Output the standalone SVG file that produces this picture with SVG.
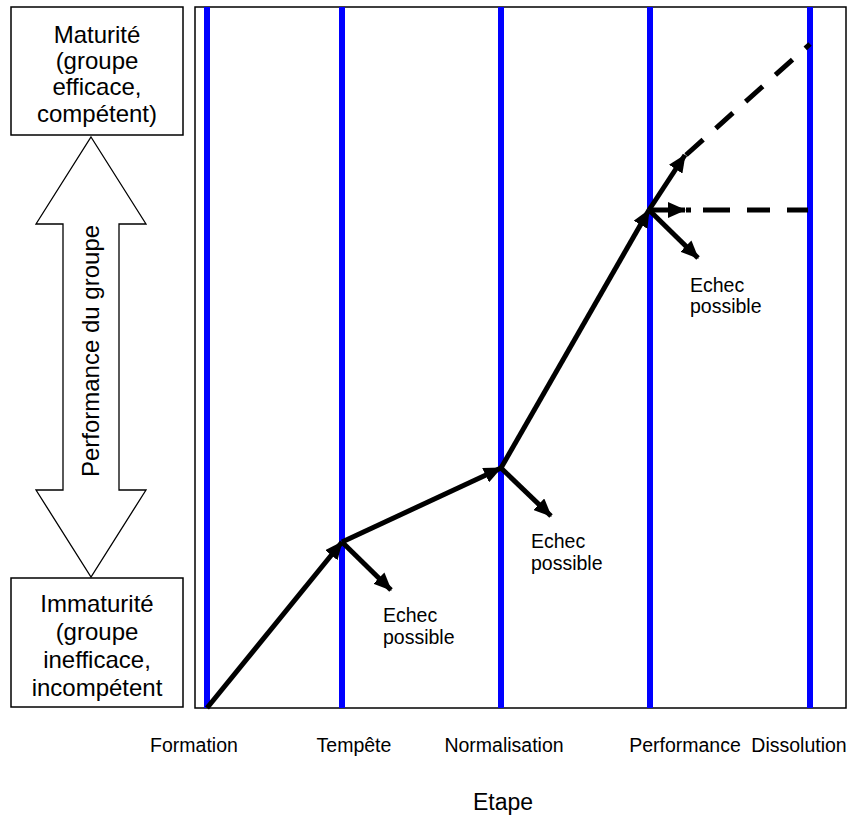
<svg xmlns="http://www.w3.org/2000/svg" width="848" height="816" viewBox="0 0 848 816">
  <style>
    .frame { fill: #fff; stroke: #000; stroke-width: 1.5; }
    .stage { stroke: #0000ff; stroke-width: 6; fill: none; }
    .big { font-family: "Liberation Sans", Arial, sans-serif; font-size: 24px; fill: #000; text-anchor: middle; }
    .small { font-family: "Liberation Sans", Arial, sans-serif; font-size: 19.5px; fill: #000; }
    .lbl { text-anchor: middle; }
    .arrow { stroke: #000; stroke-width: 5; fill: none; marker-end: url(#head); }
    .dash { stroke: #000; stroke-width: 5; fill: none; }
  </style>
  <defs>
    <marker id="head" viewBox="0 0 18 16" refX="17" refY="8" markerWidth="18" markerHeight="16" markerUnits="userSpaceOnUse" orient="auto">
      <path d="M0,0 L18,8 L0,16 Z" fill="#000"/>
    </marker>
  </defs>

  <rect width="848" height="816" fill="#fff"/>

  <!-- Top maturity box -->
  <g id="maturite">
    <rect class="frame" x="11" y="7" width="172" height="128"/>
    <text class="big" x="97" y="43">Maturité</text>
    <text class="big" x="97" y="69">(groupe</text>
    <text class="big" x="97" y="95">efficace,</text>
    <text class="big" x="97" y="122">compétent)</text>
  </g>

  <!-- Bottom immaturity box -->
  <g id="immaturite">
    <rect class="frame" x="11" y="578" width="172" height="129"/>
    <text class="big" x="97" y="612">Immaturité</text>
    <text class="big" x="97" y="640">(groupe</text>
    <text class="big" x="97" y="668">inefficace,</text>
    <text class="big" x="97" y="696">incompétent</text>
  </g>

  <!-- Vertical double arrow: performance axis -->
  <g id="axe-performance">
    <polygon points="91,137 146,224 119,224 119,490 146,490 91,577 36,490 63,490 63,224 36,224" fill="#fff" stroke="#000" stroke-width="1.3" stroke-linejoin="miter"/>
    <text class="big" transform="translate(99,351) rotate(-90)">Performance du groupe</text>
  </g>

  <!-- Plot area with stage lines -->
  <g id="graphique">
    <rect class="frame" x="195" y="7" width="651" height="701"/>
    <line class="stage" x1="207" y1="7" x2="207" y2="708"/>
    <line class="stage" x1="342" y1="7" x2="342" y2="708"/>
    <line class="stage" x1="501" y1="7" x2="501" y2="708"/>
    <line class="stage" x1="650" y1="7" x2="650" y2="708"/>
    <line class="stage" x1="810" y1="7" x2="810" y2="708"/>
  </g>

  <!-- Stage labels -->
  <g id="etapes">
    <text class="small lbl" x="194" y="752">Formation</text>
    <text class="small lbl" x="354" y="752">Tempête</text>
    <text class="small lbl" x="504" y="752">Normalisation</text>
    <text class="small lbl" x="685" y="752">Performance</text>
    <text class="small lbl" x="799" y="752">Dissolution</text>
    <text class="big" x="503" y="810" style="font-size:23px">Etape</text>
  </g>

  <!-- Connectors -->
  <g id="connecteurs">
    <path class="arrow" d="M207,708 L342,542"/>
    <path class="arrow" d="M342,542 L501,468"/>
    <path class="arrow" d="M501,468 L649,210"/>
    <path class="arrow" d="M649,210 L685,155"/>
    <path class="arrow" d="M649,210 L685,210"/>
    <path class="dash" d="M686,155 L810,44" stroke-dasharray="23 17"/>
    <path class="dash" d="M686,210 L809,210" stroke-dasharray="5 12 27 17 23 17 21"/>
    <path class="arrow" d="M342,542 L391,590"/>
    <path class="arrow" d="M501,468 L551,516"/>
    <path class="arrow" d="M649,210 L698,258"/>
  </g>

  <!-- Failure labels -->
  <g id="echec-tempete">
    <text class="small" x="383" y="622">Echec</text>
    <text class="small" x="383" y="644">possible</text>
  </g>
  <g id="echec-normalisation">
    <text class="small" x="531" y="548">Echec</text>
    <text class="small" x="531" y="570">possible</text>
  </g>
  <g id="echec-performance">
    <text class="small" x="690" y="292">Echec</text>
    <text class="small" x="690" y="313">possible</text>
  </g>
</svg>
